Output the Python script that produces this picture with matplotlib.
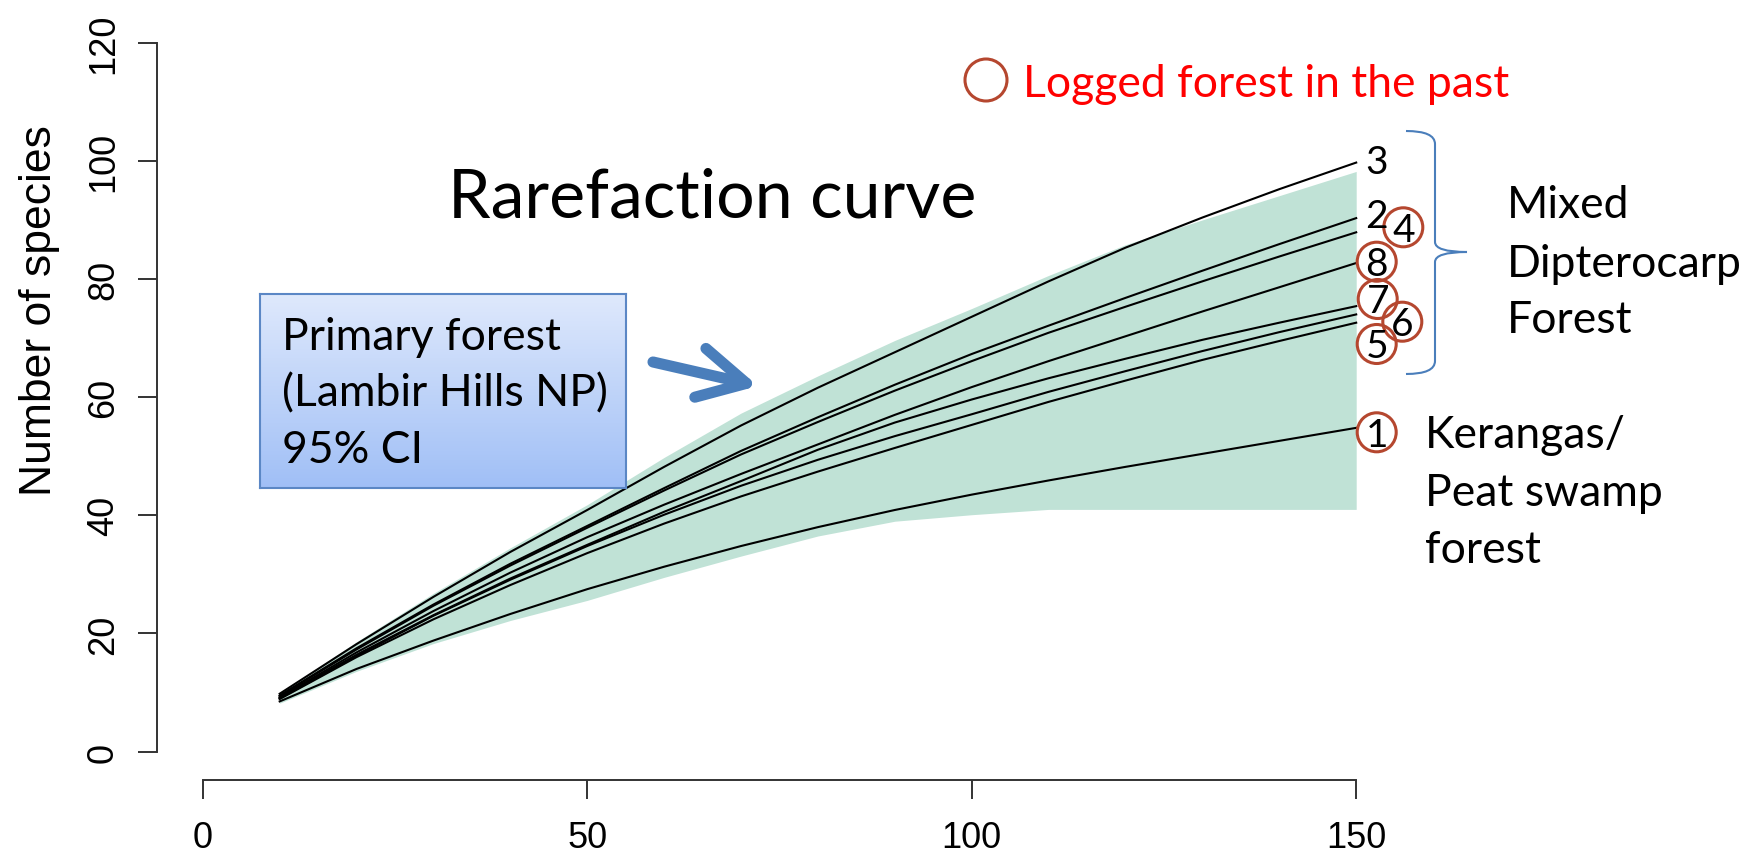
import matplotlib.pyplot as plt
import numpy as np
from matplotlib.path import Path
from matplotlib.patches import PathPatch, Circle, FancyArrowPatch
from matplotlib.colors import LinearSegmentedColormap

# rarefaction curves
sample_sizes = [10, 20, 30, 40, 50, 60, 70, 80, 90, 100, 110, 120, 130, 140, 150]

ci_upper = [9.9, 18.6, 26.8, 34.5, 41.8, 49.8, 57.3, 63.6, 69.6, 75.0, 80.6, 85.8, 90.0, 94.1, 98.2]
ci_lower = [8.2, 13.6, 18.3, 22.2, 25.6, 29.5, 33.1, 36.5, 39.0, 40.1, 41.0, 41.0, 41.0, 41.0, 41.0]

site_curves = {
    "1": [8.5, 14.0, 18.8, 23.3, 27.5, 31.3, 34.8, 38.0, 40.9, 43.5, 45.9, 48.2, 50.4, 52.6, 54.8],
    "2": [9.5, 17.5, 24.9, 31.8, 38.2, 44.6, 50.9, 56.6, 62.1, 67.3, 72.1, 76.8, 81.4, 85.9, 90.3],
    "3": [9.8, 18.2, 26.2, 33.8, 40.9, 48.2, 55.2, 61.6, 67.6, 73.6, 79.6, 85.3, 90.4, 95.2, 99.7],
    "4": [9.4, 17.3, 24.7, 31.5, 37.9, 44.2, 50.3, 55.8, 61.1, 66.1, 70.9, 75.3, 79.6, 83.8, 87.9],
    "5": [8.9, 16.0, 22.4, 28.2, 33.6, 38.6, 43.2, 47.4, 51.4, 55.3, 59.2, 62.8, 66.3, 69.5, 72.6],
    "6": [9.0, 16.2, 23.0, 29.1, 34.8, 40.1, 45.0, 49.4, 53.4, 57.1, 60.9, 64.4, 67.8, 71.0, 74.0],
    "7": [9.1, 16.4, 23.1, 29.3, 35.0, 40.6, 45.8, 51.1, 55.7, 59.6, 63.2, 66.5, 69.7, 72.6, 75.4],
    "8": [9.2, 16.8, 23.8, 30.3, 36.3, 41.8, 47.0, 52.0, 57.0, 61.7, 66.1, 70.3, 74.5, 78.6, 82.7],
}
logged_sites = ["1", "4", "5", "6", "7", "8"]

x_ticks = [0, 50, 100, 150]
y_ticks = [0, 20, 40, 60, 80, 100, 120]

W, H = 1756, 853
fig = plt.figure(figsize=(W / 100, H / 100), dpi=100)
tr = fig.dpi_scale_trans


def at(x, y):
    # reference pixel (from top-left) -> inches
    return x / 100, (H - y) / 100


ax = fig.add_axes([0.0892, 0.0844, 0.7094, 0.8977])
ax.set_xlim(-6, 156)
ax.set_ylim(-4.8, 124.8)

ax.fill_between(sample_sizes, ci_lower, ci_upper, color="#c0e2d6", lw=0)
for name, vals in site_curves.items():
    ax.plot(sample_sizes, vals, color="black", lw=1.5)

for s in ["top", "right"]:
    ax.spines[s].set_visible(False)
ax.spines["left"].set_bounds(0, 120)
ax.spines["bottom"].set_bounds(0, 150)
for s in ["left", "bottom"]:
    ax.spines[s].set_color("#333333")
    ax.spines[s].set_linewidth(1.4)
ax.set_xticks(x_ticks)
ax.set_yticks(y_ticks)
ax.tick_params(length=13.7, width=1.4, color="#333333", labelsize=26)
ax.tick_params(axis="x", pad=15)
ax.tick_params(axis="y", pad=12)
for lab in ax.get_xticklabels() + ax.get_yticklabels():
    lab.set_family(["Liberation Sans", "DejaVu Sans"])
for lab in ax.get_yticklabels():
    lab.set_rotation(90)
    lab.set_va("center")

fig.text(*at(40, 311), "Number of species", transform=tr, rotation=90,
         ha="center", va="center", fontsize=32,
         family=["Liberation Sans", "DejaVu Sans"])

ann = ["Lato", "DejaVu Sans"]

fig.text(*at(448, 218), "Rarefaction curve", transform=tr, fontsize=49,
         family=ann, va="baseline")

# gradient box
bax = fig.add_axes([260 / W, 1 - 489 / H, 366 / W, 194.5 / H])
grad = np.linspace(0, 1, 256).reshape(-1, 1)
cmap = LinearSegmentedColormap.from_list("box", ["#dfe9fc", "#a0bff6"])
bax.imshow(grad, aspect="auto", cmap=cmap, extent=[0, 1, 0, 1])
bax.set_xticks([])
bax.set_yticks([])
for s in bax.spines.values():
    s.set_color("#5b87c5")
    s.set_linewidth(1.5)
for txt, base in [("Primary forest", 350), ("(Lambir Hills NP)", 406.7), ("95% CI", 463.3)]:
    fig.text(*at(281.7, base), txt, transform=tr, fontsize=32, family=ann,
             va="baseline", zorder=10)

arrow = FancyArrowPatch(at(653, 363), at(758, 387), transform=tr,
                        arrowstyle="->,head_length=0.34,head_width=0.18",
                        mutation_scale=100, lw=8, color="#4a7ebb",
                        capstyle="round", joinstyle="round",
                        shrinkA=0, shrinkB=0)
fig.add_artist(arrow)

# legend for logged sites
circ_col = "#b5472f"
fig.add_artist(Circle(at(986, 81), 0.21, transform=tr, fill=False,
                      ec=circ_col, lw=2.2))
fig.text(*at(1023, 97), "Logged forest in the past", transform=tr,
         fontsize=32, family=ann, color="#ff0000", va="baseline")

# curve end labels
label_pos = {
    "3": (1376.7, 161), "2": (1376.7, 215), "4": (1403.3, 228.3),
    "8": (1376.7, 262.7), "7": (1377.7, 300), "6": (1402.3, 322.7),
    "5": (1376.7, 345), "1": (1376.7, 433.3),
}
for name, (lx, ly) in label_pos.items():
    if name in logged_sites:
        fig.add_artist(Circle(at(lx, ly), 0.195, transform=tr, fill=False,
                              ec=circ_col, lw=2.2, zorder=5))
    fig.text(*at(lx, ly + 13.5), name, transform=tr, fontsize=28, family=ann,
             ha="center", va="baseline", zorder=6)

# brace
bx, tip = 1435, 1467
verts = [at(1406, 132), at(bx, 132), at(bx, 145), at(bx, 243), at(bx, 253), at(tip, 253),
         at(bx, 253), at(bx, 263), at(bx, 362), at(bx, 375), at(1406, 375)]
codes = [Path.MOVETO, Path.CURVE3, Path.CURVE3, Path.LINETO, Path.CURVE3, Path.CURVE3,
         Path.CURVE3, Path.CURVE3, Path.LINETO, Path.CURVE3, Path.CURVE3]
fig.add_artist(PathPatch(Path(verts, codes), transform=tr, fill=False,
                         ec="#4a7ebb", lw=1.5))

for txt, base in [("Mixed", 218.3), ("Dipterocarp", 276.7), ("Forest", 333.3)]:
    fig.text(*at(1506.7, base), txt, transform=tr, fontsize=32, family=ann,
             va="baseline")
for txt, base in [("Kerangas/", 448.3), ("Peat swamp", 506), ("forest", 563.5)]:
    fig.text(*at(1425, base), txt, transform=tr, fontsize=32, family=ann,
             va="baseline")

fig.savefig("out.png", dpi=100)
